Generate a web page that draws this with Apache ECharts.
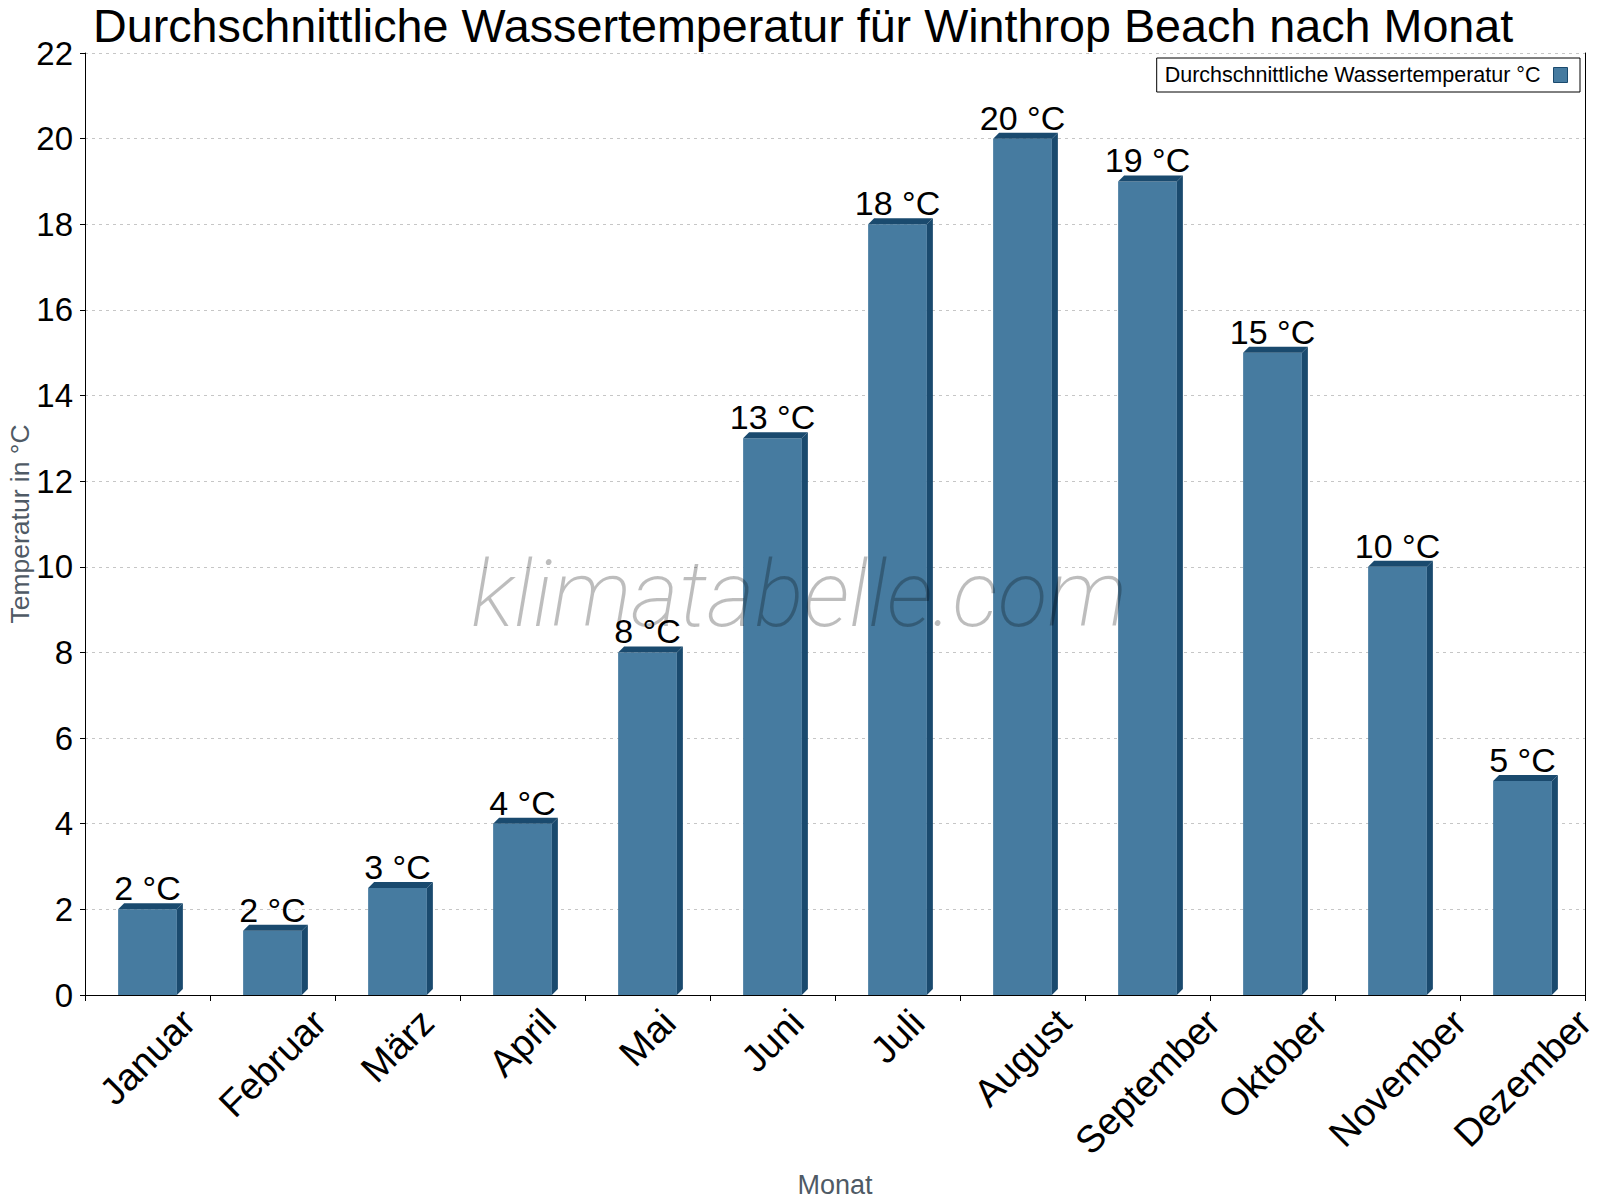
<!DOCTYPE html>
<html>
<head>
<meta charset="utf-8">
<script src="https://cdn.jsdelivr.net/npm/echarts@6/dist/echarts.min.js"></script>
<style>
html,body{margin:0;padding:0;background:#fff;}
#chart{width:1600px;height:1200px;}
</style>
</head>
<body>
<div id="chart"></div>
<script>
// ---- data ----
const months = ['Januar','Februar','März','April','Mai','Juni','Juli','August','September','Oktober','November','Dezember'];
const temps = [2, 1.5, 2.5, 4, 8, 13, 18, 20, 19, 15, 10, 5];
const yTicks = [0, 2, 4, 6, 8, 10, 12, 14, 16, 18, 20, 22];
const seriesName = 'Durchschnittliche Wassertemperatur °C';
const titleText = 'Durchschnittliche Wassertemperatur für Winthrop Beach nach Monat';
const yName = 'Temperatur in °C';
const xName = 'Monat';
const watermark = 'klimatabelle.com';

// ---- styling ----
const FONT = '"Liberation Sans", Arial, sans-serif';
const FRONT = '#467ba0';
const DARK = '#1a4a6e';
const XLABEL_SIZE = 38;

// measure x label widths to keep rotated labels centred under their category
const cv = document.createElement('canvas').getContext('2d');
cv.font = XLABEL_SIZE + 'px "Liberation Sans"';
const rich = {};
months.forEach(function (m, i) {
  const w = cv.measureText(m).width;
  const p = Math.round(w / 2);
  rich['l' + i] = { padding: [p, p, 0, 0], fontSize: XLABEL_SIZE, fontFamily: FONT, color: '#000' };
});

const chart = echarts.init(document.getElementById('chart'), null, { renderer: 'svg' });

function renderBar(params, api) {
  const idx = api.value(0);
  const v = api.value(1);
  const base = api.coord([idx, 0]);
  const top = api.coord([idx, v]);
  const bw = api.size([1, 0])[0] * 0.47;
  const d = 6;
  const x0 = base[0] - bw / 2;
  const x1 = x0 + bw;
  const yb = base[1];
  const yt = top[1];
  return {
    type: 'group',
    children: [
      { type: 'rect', shape: { x: x0, y: yt, width: bw, height: yb - yt }, style: { fill: FRONT } },
      { type: 'polygon', shape: { points: [[x1, yb], [x1 + d, yb - d], [x1 + d, yt - d], [x1, yt]] }, style: { fill: DARK } },
      { type: 'polygon', shape: { points: [[x0, yt], [x0 + d, yt - d], [x1 + d, yt - d], [x1, yt]] }, style: { fill: DARK } },
      { type: 'text', x: base[0], y: yt - 4, style: { text: Math.round(v) + ' °C', fill: '#000', font: '34px ' + FONT, textAlign: 'center', textVerticalAlign: 'bottom' } }
    ]
  };
}

const option = {
  backgroundColor: '#fff',
  animation: false,
  title: {
    text: titleText,
    left: 88,
    top: -3,
    textStyle: { fontFamily: FONT, fontSize: 46.7, fontWeight: 'normal', color: '#000' }
  },
  legend: {
    right: 20,
    top: 58,
    align: 'right',
    padding: [6, 12, 6, 8],
    borderColor: '#000',
    borderWidth: 1,
    itemWidth: 14,
    itemHeight: 15,
    textStyle: { fontFamily: FONT, fontSize: 21.5, color: '#000', padding: [0, 8, 0, 0] },
    data: [{ name: seriesName, icon: 'rect', itemStyle: { color: FRONT, borderColor: DARK, borderWidth: 1 } }]
  },
  grid: { left: 85, right: 15, top: 53, bottom: 205, containLabel: false, outerBoundsMode: 'none' },
  xAxis: {
    type: 'category',
    data: months,
    name: xName,
    nameLocation: 'middle',
    nameGap: 176,
    nameTextStyle: { fontFamily: FONT, fontSize: 27, color: '#4f5a65' },
    axisLine: { lineStyle: { color: '#000', width: 1 } },
    axisTick: { show: true, length: 6, lineStyle: { color: '#000' } },
    axisLabel: {
      interval: 0,
      rotate: 45,
      align: 'center',
      verticalAlign: 'middle',
      margin: 21,
      fontFamily: FONT,
      fontSize: XLABEL_SIZE,
      color: '#000',
      formatter: function (value, index) { return '{l' + index + '|' + value + '}'; },
      rich: rich
    },
    splitLine: { show: false }
  },
  yAxis: [{
    type: 'value',
    min: yTicks[0],
    max: yTicks[yTicks.length - 1],
    interval: yTicks[1] - yTicks[0],
    name: yName,
    nameLocation: 'middle',
    nameGap: 52,
    nameMoveOverlap: false,
    nameTextStyle: { fontFamily: FONT, fontSize: 26.5, color: '#4f5a65' },
    axisLine: { show: true, lineStyle: { color: '#000', width: 1 } },
    axisTick: { show: true, length: 5, lineStyle: { color: '#000' } },
    axisLabel: { fontFamily: FONT, fontSize: 33, color: '#000', margin: 12 },
    splitLine: { show: true, lineStyle: { color: '#c6c6c6', type: [3, 4], width: 1 } }
  }, {
    type: 'value',
    position: 'right',
    min: yTicks[0],
    max: yTicks[yTicks.length - 1],
    interval: yTicks[1] - yTicks[0],
    axisLine: { show: true, lineStyle: { color: '#000', width: 1 } },
    axisTick: { show: false },
    axisLabel: { show: false },
    splitLine: { show: false }
  }],
  graphic: [{
    type: 'text',
    x: 799,
    y: 594,
    z: 100,
    silent: true,
    style: {
      text: watermark,
      font: 'italic 200 92px Roboto, sans-serif',
      fill: 'rgba(0,0,0,0.26)',
      textAlign: 'center',
      textVerticalAlign: 'middle'
    }
  }],
  series: [{
    name: seriesName,
    type: 'custom',
    renderItem: renderBar,
    itemStyle: { color: FRONT },
    encode: { x: 0, y: 1 },
    data: temps.map(function (t, i) { return [i, t]; }),
    z: 2
  }]
};
chart.setOption(option);
</script>
</body>
</html>
